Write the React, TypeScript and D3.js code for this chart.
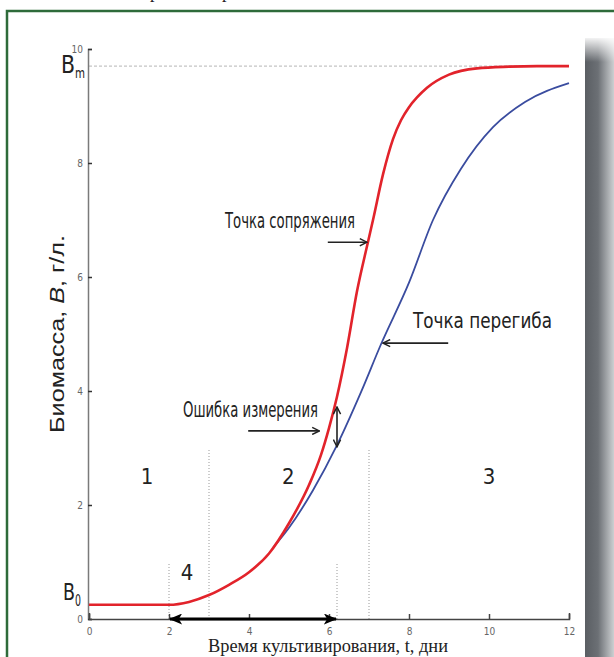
import React, { useEffect, useRef } from "react";
import * as d3 from "d3";

// кривая роста (красная) — t, дни / B, г/л
const redT = [0, 1, 2, 2.5, 3, 3.5, 4, 4.5, 5, 5.5, 5.8, 6, 6.2, 6.45, 6.7, 6.97, 7.1, 7.35, 7.6, 7.8, 8, 8.2, 8.45, 9, 9.7, 10.5, 11.2, 12];
const redB = [0.25, 0.25, 0.25, 0.3, 0.42, 0.6, 0.82, 1.15, 1.68, 2.35, 2.88, 3.35, 3.9, 4.75, 5.75, 6.6, 7.0, 7.8, 8.42, 8.75, 8.98, 9.15, 9.32, 9.55, 9.66, 9.69, 9.7, 9.7];

// логистическая аппроксимация (синяя)
const blueT = [4.6, 5, 5.6, 6.2, 6.8, 7.3, 8, 8.6, 9.3, 10.1, 10.9, 12];
const blueB = [1.25, 1.6, 2.26, 3.05, 3.98, 4.82, 5.9, 7.0, 7.9, 8.63, 9.07, 9.4];

const xTicks = [0, 2, 4, 6, 8, 10, 12];
const yTicks = [0, 2, 4, 6, 8, 10];
const bMax = 9.7;
const bZero = 0.25;

// пунктирные вертикали: [t, верх по B]
const guideT = [2, 3, 6.2, 7];
const guideTop = [1, 3, 1, 3];

// номера фаз
const phaseLabels = ["1", "2", "3", "4"];
const phaseT = [1.45, 4.98, 10, 2.45];
const phaseB = [2.37, 2.37, 2.37, 0.68];

export default function App() {
    const svgRef = useRef<SVGSVGElement | null>(null);

    useEffect(() => {
        const width = 614;
        const height = 657;
        const svg = d3.select(svgRef.current);
        svg.selectAll("*").remove();
        svg.attr("width", width).attr("height", height);

        const narrow = "'Liberation Sans Narrow', 'Arial Narrow', 'DejaVu Sans Condensed', sans-serif";

        const x = d3.scaleLinear().domain([0, 12]).range([89, 569]);
        const y = d3.scaleLinear().domain([0, 10]).range([619, 49]);

        const defs = svg.append("defs");
        const grad = defs.append("linearGradient").attr("id", "shadowH");
        grad.append("stop").attr("offset", "0%").attr("stop-color", "#5a5e63");
        grad.append("stop").attr("offset", "45%").attr("stop-color", "#6c7075");
        grad.append("stop").attr("offset", "100%").attr("stop-color", "#cdd0d2");
        const fade = defs.append("linearGradient").attr("id", "shadowV")
            .attr("x1", 0).attr("x2", 0).attr("y1", 0).attr("y2", 1);
        fade.append("stop").attr("offset", "0%").attr("stop-color", "#fff").attr("stop-opacity", 1);
        fade.append("stop").attr("offset", "100%").attr("stop-color", "#fff").attr("stop-opacity", 0);

        defs.append("marker").attr("id", "chev")
            .attr("viewBox", "0 0 10 10").attr("refX", 9).attr("refY", 5)
            .attr("markerWidth", 9).attr("markerHeight", 9)
            .attr("markerUnits", "userSpaceOnUse").attr("orient", "auto-start-reverse")
            .append("path").attr("d", "M1,1 L9,5 L1,9")
            .attr("fill", "none").attr("stroke", "#222").attr("stroke-width", 1.6);
        defs.append("marker").attr("id", "tri")
            .attr("viewBox", "0 0 12 10").attr("refX", 11).attr("refY", 5)
            .attr("markerWidth", 14).attr("markerHeight", 11)
            .attr("markerUnits", "userSpaceOnUse").attr("orient", "auto-start-reverse")
            .append("path").attr("d", "M0,0 L12,5 L0,10 L3,5 Z").attr("fill", "#000");

        // тень справа и рамка
        svg.append("rect").attr("x", 585).attr("y", 38).attr("width", 29).attr("height", height - 38)
            .attr("fill", "url(#shadowH)");
        svg.append("rect").attr("x", 585).attr("y", 36).attr("width", 29).attr("height", 26)
            .attr("fill", "url(#shadowV)");
        svg.append("path").attr("d", `M7,${height} V11 H${width}`)
            .attr("fill", "none").attr("stroke", "#2e6b3a").attr("stroke-width", 2.5);
        // хвосты букв строки выше (обрезаны краем)
        svg.append("text").attr("x", 150).attr("y", -2).style("font-family", "'Liberation Serif', serif")
            .style("font-size", "18px").attr("fill", "#222").text("р");
        svg.append("text").attr("x", 222).attr("y", -2).style("font-family", "'Liberation Serif', serif")
            .style("font-size", "18px").attr("fill", "#222").text("р");

        // линия B_m
        svg.append("line")
            .attr("x1", x(0)).attr("x2", x(12)).attr("y1", y(bMax)).attr("y2", y(bMax))
            .attr("stroke", "#b5b5b5").attr("stroke-width", 1).attr("stroke-dasharray", "3,2");

        // вертикальные пунктиры
        svg.selectAll(".guide").data(guideT).enter().append("line")
            .attr("x1", (d) => x(d)).attr("x2", (d) => x(d))
            .attr("y1", y(0)).attr("y2", (d, i) => y(guideTop[i]))
            .attr("stroke", "#999").attr("stroke-width", 1).attr("stroke-dasharray", "1,2");

        // оси
        const yAxis = d3.axisLeft(y).tickValues(yTicks).tickSizeInner(-4).tickSizeOuter(-4).tickPadding(5);
        const gy = svg.append("g").attr("transform", `translate(${x(0) - 1},0)`).call(yAxis);
        gy.select(".domain").attr("stroke", "#7a7a7a").attr("stroke-width", 1.5);
        gy.selectAll(".tick line").attr("stroke", "#333").attr("stroke-width", 1.5);
        gy.selectAll(".tick text").style("font-family", narrow).style("font-size", "10px").attr("fill", "#666");

        const xAxis = d3.axisBottom(x).tickValues(xTicks).tickSizeInner(-5).tickSizeOuter(-6).tickPadding(9);
        const gx = svg.append("g").attr("transform", `translate(0,${y(0)})`).call(xAxis);
        gx.select(".domain").attr("stroke", "#444").attr("stroke-width", 1.5);
        gx.selectAll(".tick line").attr("stroke", "#444").attr("stroke-width", 1.5);
        gx.selectAll(".tick text").style("font-family", narrow).style("font-size", "10px").attr("fill", "#666");

        // кривые
        const line = d3.line<number>().x((d) => x(d)).curve(d3.curveMonotoneX);
        svg.append("path")
            .attr("d", line.y((d, i) => y(blueB[i]))(blueT))
            .attr("fill", "none").attr("stroke", "#3a4c9f").attr("stroke-width", 1.8);
        svg.append("path")
            .attr("d", line.y((d, i) => y(redB[i]))(redT))
            .attr("fill", "none").attr("stroke", "#e2232b").attr("stroke-width", 2.6);

        // двойная стрелка по оси
        svg.append("line")
            .attr("x1", x(2) + 1).attr("x2", x(6.2) - 1).attr("y1", y(0)).attr("y2", y(0))
            .attr("stroke", "#000").attr("stroke-width", 3)
            .attr("marker-start", "url(#tri)").attr("marker-end", "url(#tri)");

        // номера фаз
        svg.selectAll(".phase").data(phaseLabels).enter().append("text")
            .attr("x", (d, i) => x(phaseT[i])).attr("y", (d, i) => y(phaseB[i]))
            .attr("text-anchor", "middle").style("font-family", narrow).style("font-size", "22px")
            .attr("fill", "#222").text((d) => d);

        // подписи и стрелки
        const note = (t: number, b: number, txt: string, len: number) =>
            svg.append("text").attr("x", x(t)).attr("y", y(b))
                .style("font-family", narrow).style("font-size", "21px").attr("fill", "#222")
                .attr("textLength", len).attr("lengthAdjust", "spacingAndGlyphs").text(txt);
        const arrow = (t1: number, b1: number, t2: number, b2: number, both = false) =>
            svg.append("line").attr("x1", x(t1)).attr("y1", y(b1)).attr("x2", x(t2)).attr("y2", y(b2))
                .attr("stroke", "#222").attr("stroke-width", 1.6)
                .attr("marker-end", "url(#chev)").attr("marker-start", both ? "url(#chev)" : null);

        note(3.4, 6.86, "Точка сопряжения", 130);
        arrow(5.97, 6.61, 6.95, 6.61);
        note(8.1, 5.1, "Точка перегиба", 139);
        arrow(8.98, 4.84, 7.35, 4.84);
        note(2.35, 3.54, "Ошибка измерения", 135);
        arrow(3.98, 3.3, 5.76, 3.3);
        arrow(6.2, 3.72, 6.2, 3.02, true);

        // B_m и B_0
        const bm = svg.append("text").attr("y", y(bMax) + 7)
            .style("font-family", narrow).attr("fill", "#222");
        bm.append("tspan").attr("x", 61).style("font-size", "25px")
            .attr("textLength", 14).attr("lengthAdjust", "spacingAndGlyphs").text("B");
        bm.append("tspan").attr("x", 75).attr("dy", 5).style("font-size", "14px")
            .attr("textLength", 10).attr("lengthAdjust", "spacingAndGlyphs").text("m");
        const b0 = svg.append("text").attr("y", y(bZero) - 5)
            .style("font-family", narrow).attr("fill", "#222");
        b0.append("tspan").attr("x", 63).style("font-size", "23px")
            .attr("textLength", 12).attr("lengthAdjust", "spacingAndGlyphs").text("B");
        b0.append("tspan").attr("x", 75).attr("dy", 6).style("font-size", "15px")
            .attr("textLength", 6).attr("lengthAdjust", "spacingAndGlyphs").text("0");

        // подписи осей
        const yl = svg.append("text")
            .attr("transform", `translate(64,${(y(0) + y(10)) / 2}) rotate(-90)`)
            .attr("text-anchor", "middle")
            .style("font-family", "'Liberation Sans', Arial, sans-serif").style("font-size", "20px")
            .attr("fill", "#222").attr("textLength", 198).attr("lengthAdjust", "spacingAndGlyphs");
        yl.append("tspan").text("Биомасса, ");
        yl.append("tspan").style("font-style", "italic").text("B");
        yl.append("tspan").text(", г/л.");

        svg.append("text")
            .attr("x", 328).attr("y", 652).attr("text-anchor", "middle")
            .style("font-family", "'Liberation Serif', 'Times New Roman', serif").style("font-size", "18px")
            .attr("fill", "#222").attr("textLength", 240).attr("lengthAdjust", "spacingAndGlyphs")
            .text("Время культивирования, t, дни");
    }, []);

    return (
        <svg ref={svgRef} style={{ position: "absolute", left: 0, top: 0, background: "#fff" }} />
    );
}
